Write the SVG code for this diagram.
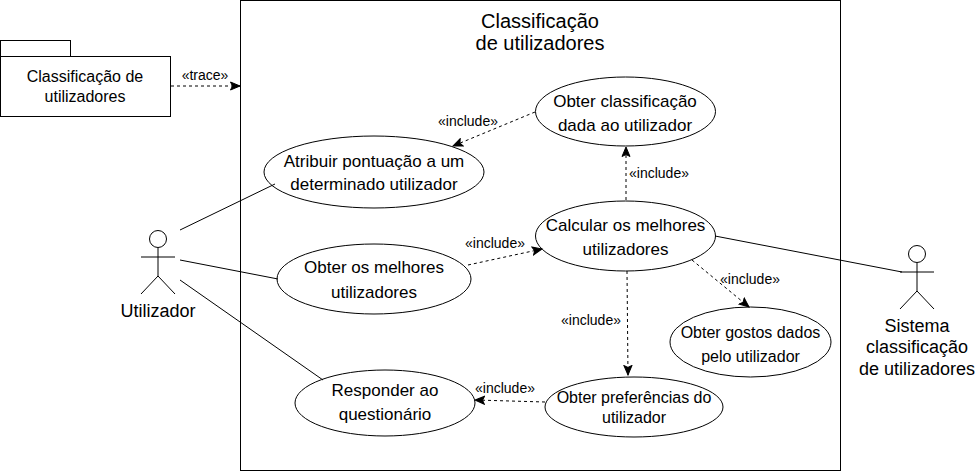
<svg xmlns="http://www.w3.org/2000/svg" width="976" height="471" viewBox="0 0 976 471">
<style>
text{font-family:"Liberation Sans",Arial,sans-serif;fill:#000;text-anchor:middle}
.n{fill:#fff;stroke:#000;stroke-width:1}
.b{font-size:20px}
.a{font-size:18px}
.t{font-size:17px}
.s{font-size:16px}
.l{font-size:14px}
.c{fill:none;stroke:#000;stroke-width:1}
.d{fill:none;stroke:#000;stroke-width:1;stroke-dasharray:3 3;marker-end:url(#a)}
</style>
<defs><marker id="a" markerWidth="12" markerHeight="12" refX="10" refY="5" orient="auto" markerUnits="userSpaceOnUse"><path d="M0.500 1L10 5L0.500 9L2.500 5Z" fill="#000" stroke="#000" stroke-width="1"/></marker></defs>
<rect width="976" height="471" fill="#fff"/>
<g id="system"><rect class="n" x="240.500" y="0.500" width="600" height="470"/><text class="b" x="540" y="28">Classificação</text><text class="b" x="540" y="50">de utilizadores</text></g>
<g id="package"><rect class="n" x="0.500" y="40.500" width="70" height="16"/><rect class="n" x="0.500" y="56.500" width="170" height="60"/><text class="s" x="85" y="82">Classificação de</text><text class="s" x="85" y="102">utilizadores</text></g>
<g id="uc-obter-classificacao"><ellipse class="n" cx="625.500" cy="111.500" rx="90" ry="34.500"/><text class="t" x="625" y="107">Obter classificação</text><text class="t" x="625" y="131">dada ao utilizador</text></g>
<g id="uc-atribuir"><ellipse class="n" cx="374" cy="172" rx="110" ry="36"/><text class="t" x="374" y="167">Atribuir pontuação a um</text><text class="t" x="374" y="190">determinado utilizador</text></g>
<g id="uc-calcular"><ellipse class="n" cx="625.500" cy="236" rx="90" ry="35"/><text class="t" x="625.500" y="231">Calcular os melhores</text><text class="t" x="625.500" y="255">utilizadores</text></g>
<g id="uc-obter-melhores"><ellipse class="n" cx="374" cy="279" rx="97" ry="35"/><text class="t" x="374" y="273">Obter os melhores</text><text class="t" x="374" y="298">utilizadores</text></g>
<g id="uc-gostos"><ellipse class="n" cx="750.500" cy="342" rx="80.500" ry="35"/><text class="s" x="750.500" y="338">Obter gostos dados</text><text class="s" x="750.500" y="362">pelo utilizador</text></g>
<g id="uc-preferencias"><ellipse class="n" cx="634" cy="407" rx="89" ry="30"/><text class="s" x="634" y="403">Obter preferências do</text><text class="s" x="634" y="423">utilizador</text></g>
<g id="uc-responder"><ellipse class="n" cx="385" cy="403" rx="90" ry="33"/><text class="t" x="385" y="396">Responder ao</text><text class="t" x="385" y="420">questionário</text></g>
<g id="connectors">
<path class="d" d="M171 86H240"/>
<path class="c" d="M180 230L275 184"/>
<path class="c" d="M180 260L278 279"/>
<path class="c" d="M180 280L323 380"/>
<path class="c" d="M715 236L902 272"/>
<path class="d" d="M535 112L453 146"/>
<path class="d" d="M626 200V147"/>
<path class="d" d="M468 265L542 249"/>
<path class="d" d="M692 260L749 307"/>
<path class="d" d="M627 271L628 375"/>
<path class="d" d="M545 402L475 400"/>
</g>
<g id="labels">
<text class="l" x="205" y="80">«trace»</text>
<text class="l" x="468" y="126">«include»</text>
<text class="l" x="659" y="178">«include»</text>
<text class="l" x="495" y="248">«include»</text>
<text class="l" x="750" y="284">«include»</text>
<text class="l" x="591" y="325">«include»</text>
<text class="l" x="505" y="393">«include»</text>
</g>
<g id="actor-utilizador"><circle class="n" cx="158" cy="239" r="8.500"/><path class="c" d="M158 248V276M141 257H175M158 276L141 294M158 276L175 294"/><text class="a" x="158" y="317">Utilizador</text></g>
<g id="actor-sistema"><circle class="n" cx="917" cy="254" r="8.500"/><path class="c" d="M917 263V291M900 272H934M917 291L900 309M917 291L934 309"/><text class="a" x="917" y="332">Sistema</text><text class="a" x="917" y="353">classificação</text><text class="a" x="917" y="375">de utilizadores</text></g>
</svg>
